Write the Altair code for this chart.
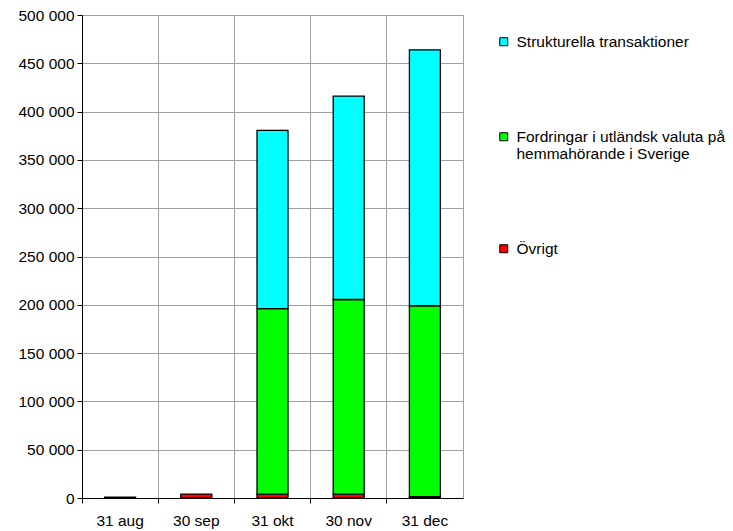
import altair as alt
import pandas as pd

categories = ["31 aug", "30 sep", "31 okt", "30 nov", "31 dec"]
series = ["Strukturella transaktioner",
          "Fordringar i utländsk valuta på hemmahörande i Sverige",
          "Övrigt"]
colors = ["#00FFFF", "#00FF00", "#FF0000"]
strukturella = [0, 0, 184500, 210500, 265000]
fordringar = [0, 0, 192000, 201500, 197500]
ovrigt = [1000, 4000, 4000, 4000, 1500]
y_ticks = [0, 50000, 100000, 150000, 200000, 250000, 300000, 350000, 400000, 450000, 500000]

rows = []
for i, c in enumerate(categories):
    for s, vals, o in [(series[2], ovrigt, 1), (series[1], fordringar, 2), (series[0], strukturella, 3)]:
        if vals[i] > 0:
            rows.append({"datum": c, "serie": s, "value": vals[i], "ord": o})
df = pd.DataFrame(rows)

label_expr = ("datum.label == '" + series[1] + "' ? "
              "['Fordringar i utländsk valuta på', 'hemmahörande i Sverige'] : datum.label")

font = "Liberation Sans"
fs = 15.5

chart = alt.Chart(df).mark_bar(
    stroke="#000000", strokeWidth=1.3, width=31
).encode(
    x=alt.X("datum:N", sort=categories, title=None,
            scale=alt.Scale(paddingInner=0, paddingOuter=0),
            axis=alt.Axis(bandPosition=0, labelAngle=0, grid=True, gridColor="#a0a0a0",
                          domainColor="#000000", tickColor="#000000", tickSize=5,
                          labelPadding=10, labelFontSize=fs, labelColor="#000000",
                          labelFont=font)),
    y=alt.Y("value:Q", stack="zero", title=None,
            scale=alt.Scale(domain=[0, 500000], nice=False),
            axis=alt.Axis(values=y_ticks, grid=True, gridColor="#a0a0a0",
                          domainColor="#000000", tickColor="#000000", tickSize=5,
                          labelPadding=3, labelFontSize=fs, labelColor="#000000",
                          labelFont=font,
                          labelExpr="replace(format(datum.value, ','), ',', ' ')")),
    color=alt.Color("serie:N", scale=alt.Scale(domain=series, range=colors),
                    legend=alt.Legend(title=None, orient="none", legendX=414, legendY=19,
                                      padding=0,
                                      symbolType="square", symbolSize=64,
                                      symbolStrokeColor="#000000", symbolStrokeWidth=1,
                                      labelFontSize=fs, labelFont=font, labelColor="#000000",
                                      labelLimit=400, rowPadding=78, labelOffset=5,
                                      labelExpr=label_expr)),
    order=alt.Order("ord:Q"),
).properties(
    width=381, height=483,
    autosize=alt.AutoSizeParams(type="none"),
    padding={"left": 74, "top": 7, "right": 262, "bottom": 34},
).configure_view(
    stroke="#a0a0a0"
)

chart.save("out.html", embed_options={"renderer": "svg", "actions": False})
